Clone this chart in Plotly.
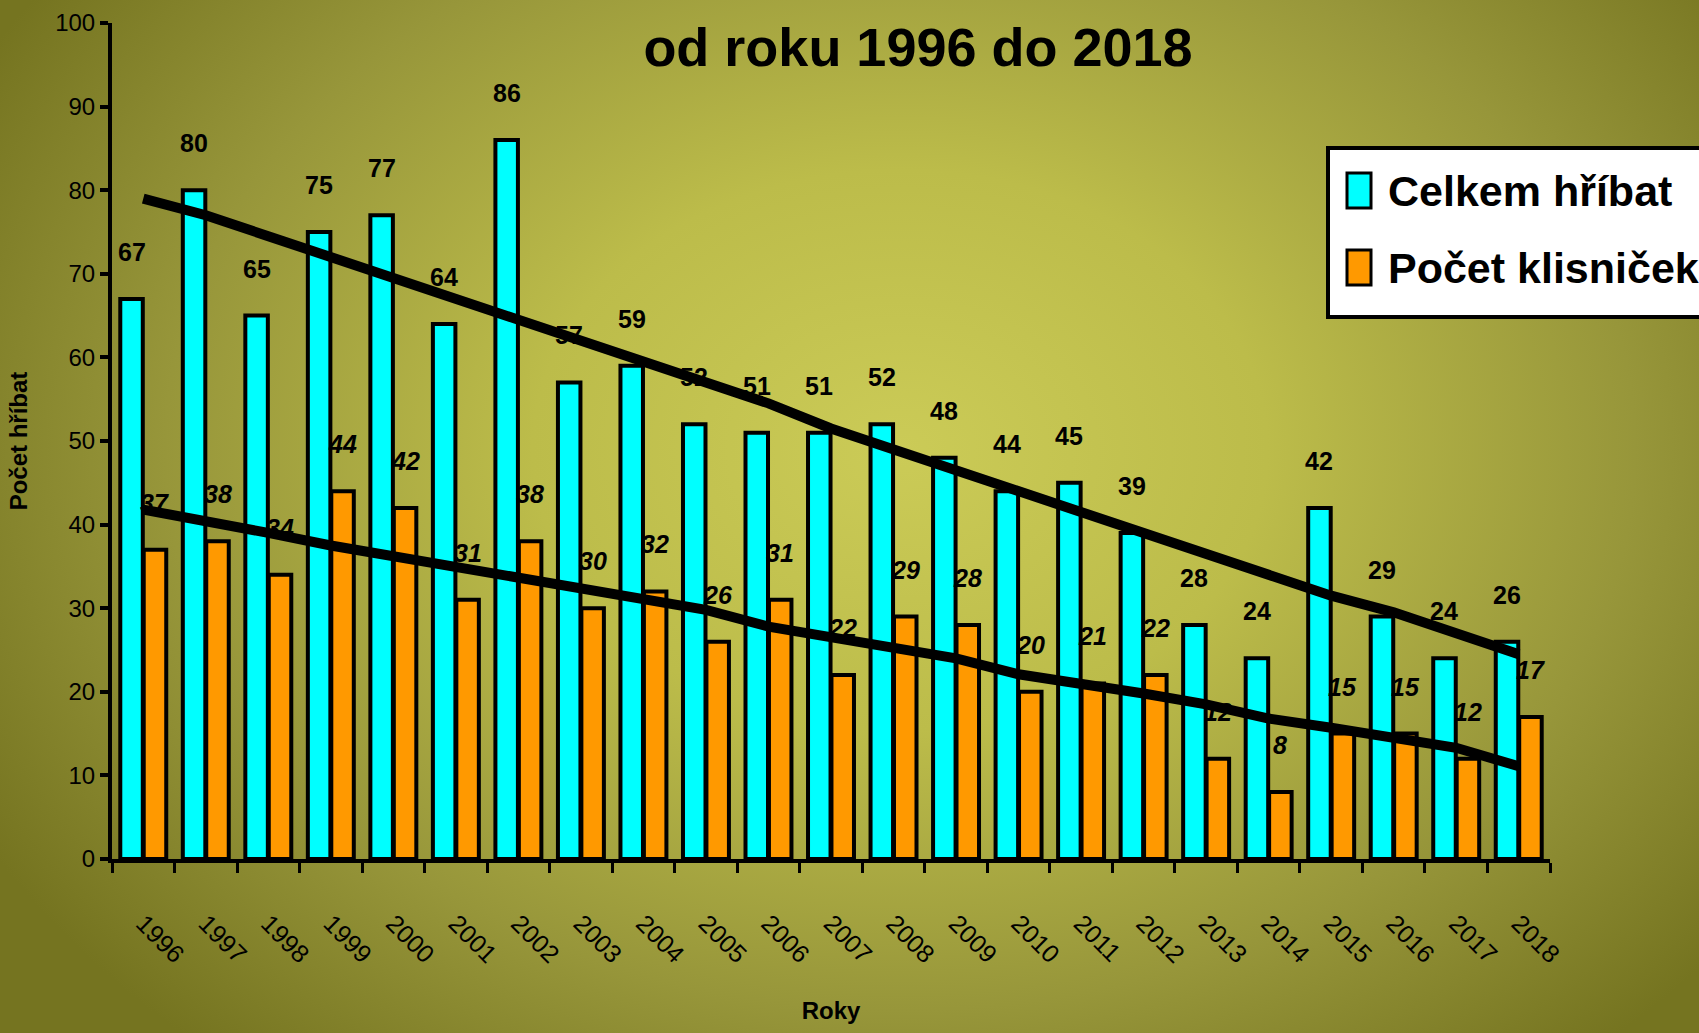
import base64
import plotly.graph_objects as go

# ---------------- data ----------------
years = ["1996", "1997", "1998", "1999", "2000", "2001", "2002", "2003", "2004", "2005", "2006",
         "2007", "2008", "2009", "2010", "2011", "2012", "2013", "2014", "2015", "2016", "2017", "2018"]
celkem = [67, 80, 65, 75, 77, 64, 86, 57, 59, 52, 51, 51, 52, 48, 44, 45, 39, 28, 24, 42, 29, 24, 26]
klisnicky = [37, 38, 34, 44, 42, 31, 38, 30, 32, 26, 31, 22, 29, 28, 20, 21, 22, 12, 8, 15, 15, 12, 17]
trend_celkem = [79, 77, 74.5, 72, 69.5, 67, 64.5, 62, 59.5, 57, 54.5, 51.5, 49, 46.5, 44, 41.5,
                39, 36.5, 34, 31.5, 29.5, 27, 24.5]
trend_klisnicky = [41.8, 40.5, 39, 37.5, 36.2, 35, 33.4, 32.3, 31, 29.8, 27.8, 26.5, 25.4, 24,
                   22.1, 21.1, 19.8, 18.5, 16.8, 15.7, 14.6, 13.3, 11.1]
series_names = ["Celkem hříbat", "Počet klisniček"]
title_text = "od roku 1996 do 2018"
x_title = "Roky"
y_title = "Počet hříbat"

# ---------------- layout constants ----------------
W, H = 1699, 1033
ML, MR, MT, MB = 112, 149, 23, 174
PW, PH = W - ML - MR, H - MT - MB
FONT = "Liberation Sans Narrow, Arial Narrow, Liberation Sans, Arial, sans-serif"
CYAN = "#00FFFF"
ORANGE = "#FF9900"


def px(xp):
    return (xp - ML) / PW


def py(yp):
    return 1 - (yp - MT) / PH


# background gradient as an inline SVG
svg = f"""<svg xmlns='http://www.w3.org/2000/svg' width='{W}' height='{H}' viewBox='0 0 {W} {H}' preserveAspectRatio='none'>
<defs><radialGradient id='g' gradientUnits='userSpaceOnUse' cx='900' cy='450' r='1050'
 gradientTransform='translate(0 450) scale(1 0.762) translate(0 -450)'>
<stop offset='0' stop-color='#cbcb57'/><stop offset='0.35' stop-color='#bcbc4a'/>
<stop offset='0.7' stop-color='#97963a'/><stop offset='1' stop-color='#757420'/>
</radialGradient></defs><rect width='{W}' height='{H}' fill='url(#g)'/></svg>"""
bg_src = "data:image/svg+xml;base64," + base64.b64encode(svg.encode()).decode()

fig = go.Figure()
fig.add_trace(go.Bar(x=years, y=celkem, name=series_names[0],
                     marker=dict(color=CYAN, line=dict(color="black", width=4)), showlegend=False))
fig.add_trace(go.Bar(x=years, y=klisnicky, name=series_names[1],
                     marker=dict(color=ORANGE, line=dict(color="black", width=4)), showlegend=False))
fig.add_trace(go.Scatter(x=years, y=trend_celkem, mode="lines", line=dict(color="black", width=10),
                         showlegend=False, hoverinfo="skip"))
fig.add_trace(go.Scatter(x=years, y=trend_klisnicky, mode="lines", line=dict(color="black", width=10),
                         showlegend=False, hoverinfo="skip"))

annotations = []
slot = PW / len(years) * 0.75 / 4  # centre offset of each bar in its group (px)
for i, v in enumerate(celkem):
    annotations.append(dict(x=i, y=v, xref="x", yref="y", text=str(v), showarrow=False,
                            xshift=-slot, yshift=47, yanchor="middle",
                            font=dict(family=FONT, size=25, color="black", weight="bold")))
for i, v in enumerate(klisnicky):
    annotations.append(dict(x=i, y=v, xref="x", yref="y", text=str(v), showarrow=False,
                            xshift=slot, yshift=47, yanchor="middle",
                            font=dict(family=FONT, size=25, color="black", weight="bold", style="italic")))

# manual legend
shapes = [
    dict(type="rect", xref="paper", yref="paper", x0=px(1328), x1=px(1760), y0=py(317), y1=py(148),
         fillcolor="white", line=dict(color="black", width=4), layer="above"),
    dict(type="rect", xref="paper", yref="paper", x0=px(1347), x1=px(1371), y0=py(208), y1=py(173),
         fillcolor=CYAN, line=dict(color="black", width=3), layer="above"),
    dict(type="rect", xref="paper", yref="paper", x0=px(1347), x1=px(1371), y0=py(285), y1=py(250),
         fillcolor=ORANGE, line=dict(color="black", width=3), layer="above"),
]
for name, yc in zip(series_names, [191, 268]):
    annotations.append(dict(x=px(1386), y=py(yc), xref="paper", yref="paper", text=name, showarrow=False,
                            xanchor="left", yanchor="middle",
                            font=dict(family=FONT, size=43, color="black", weight="bold")))

fig.update_layout(
    width=W, height=H,
    margin=dict(l=ML, r=MR, t=MT, b=MB, autoexpand=False),
    paper_bgcolor="#98973a", plot_bgcolor="rgba(0,0,0,0)",
    barmode="group", bargap=0.25, bargroupgap=0.04,
    title=dict(text=title_text, x=918 / W, xref="container", xanchor="center",
               y=1 - 47 / H, yref="container", yanchor="middle",
               font=dict(family=FONT, size=54, color="black", weight="bold")),
    images=[dict(source=bg_src, xref="paper", yref="paper", x=-ML / PW, y=1 + MT / PH,
                 sizex=W / PW, sizey=H / PH, xanchor="left", yanchor="top", sizing="stretch",
                 layer="below")],
    shapes=shapes,
    annotations=annotations,
    xaxis=dict(type="category", range=[-0.5, len(years) - 0.5], autorange=False,
               tickson="boundaries", ticks="outside", ticklen=10, tickwidth=3,
               tickcolor="black", showline=True, linecolor="black", linewidth=4, showgrid=False,
               tickangle=45, ticklabelstandoff=36,
               tickfont=dict(family=FONT, size=25, color="black"),
               title=dict(text=x_title, standoff=36,
                          font=dict(family=FONT, size=24, color="black", weight="bold"))),
    yaxis=dict(range=[0, 100], autorange=False, dtick=10, ticks="outside", ticklen=8, tickwidth=4,
               tickcolor="black", showline=True, linecolor="black", linewidth=4, showgrid=False,
               zeroline=False, tickfont=dict(family=FONT, size=24, color="black"),
               title=dict(text=y_title, standoff=22,
                          font=dict(family=FONT, size=24, color="black", weight="bold"))),
)

fig.write_html("out.html", config={"displayModeBar": False},
               post_script="document.body.style.margin='0px';document.body.style.overflow='hidden';")
